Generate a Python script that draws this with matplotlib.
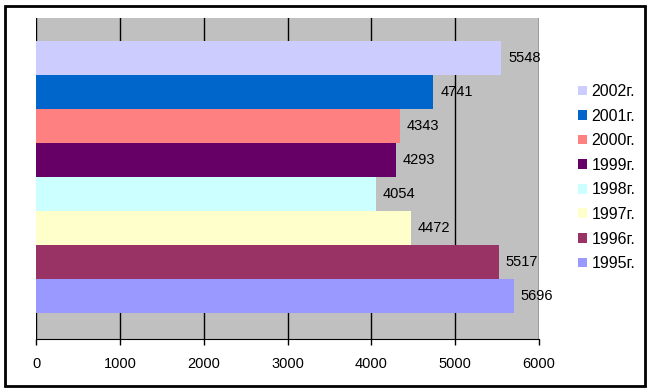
import matplotlib.pyplot as plt
from matplotlib.patches import Patch, Rectangle

plt.rcParams['font.family'] = ['Liberation Sans', 'DejaVu Sans']

years = ['1995г.', '1996г.', '1997г.', '1998г.', '1999г.', '2000г.', '2001г.', '2002г.']
values = [5696, 5517, 4472, 4054, 4293, 4343, 4741, 5548]
colors = ['#9999FF', '#993366', '#FFFFCC', '#CCFFFF', '#660066', '#FF8080', '#0066CC', '#CCCCFF']
xticks = [0, 1000, 2000, 3000, 4000, 5000, 6000]

fig = plt.figure(figsize=(6.49, 3.92), dpi=100)
ax = fig.add_axes([0.0555, 0.1352, 0.775, 0.819])
ax.set_facecolor('#C0C0C0')

pos = list(range(len(values)))
ax.barh(pos, values, height=1.0, color=colors, zorder=2)
for p, v in zip(pos, values):
    ax.annotate(str(v), (v, p), xytext=(5, 0), textcoords='offset points',
                va='center', ha='left', fontsize=10.5, color='black', zorder=3)

ax.set_xlim(0, 6000)
ax.set_ylim(-1.26, 8.18)
ax.set_xticks(xticks)
ax.set_yticks([])
ax.grid(axis='x', color='black', linewidth=1, zorder=1)
ax.set_axisbelow(True)
for s in ['top', 'right', 'left']:
    ax.spines[s].set_visible(False)
ax.spines['bottom'].set_color('black')
ax.tick_params(axis='x', direction='out', length=4, width=1, pad=9, labelsize=10.5, colors='black')

handles = [Patch(facecolor=c, edgecolor='none') for c in colors[::-1]]
fig.legend(handles, years[::-1], loc='center left', bbox_to_anchor=(578 / 649, 0.547),
           frameon=False, fontsize=11.5, handlelength=0.55, handleheight=0.55,
           handletextpad=0.3, labelspacing=0.6, borderpad=0, borderaxespad=0)

fig.patches.append(Rectangle((5 / 649, 6 / 392), 640 / 649, 380 / 392, transform=fig.transFigure,
                             fill=False, edgecolor='black', linewidth=2))

fig.savefig('out.png', dpi=100)
